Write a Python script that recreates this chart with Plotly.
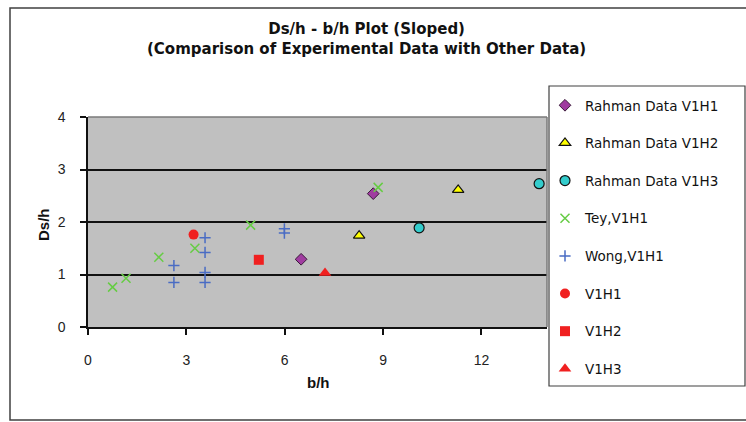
import plotly.graph_objects as go

# ---- data ----
rahman_v1h1_x = [6.50, 8.70]
rahman_v1h1_y = [1.29, 2.54]
rahman_v1h2_x = [8.27, 11.29]
rahman_v1h2_y = [1.74, 2.61]
rahman_v1h3_x = [10.10, 13.76]
rahman_v1h3_y = [1.89, 2.73]
tey_x = [0.75, 1.16, 2.16, 3.26, 4.96, 8.85]
tey_y = [0.76, 0.93, 1.33, 1.50, 1.94, 2.66]
wong_x = [2.62, 2.62, 3.57, 3.57, 3.57, 3.57, 5.99, 5.99]
wong_y = [1.17, 0.85, 1.70, 1.42, 1.04, 0.85, 1.87, 1.79]
v1h1_x = [3.22]
v1h1_y = [1.76]
v1h2_x = [5.21]
v1h2_y = [1.28]
v1h3_x = [7.23]
v1h3_y = [1.03]

x_ticks = [0, 3, 6, 9, 12]
y_ticks = [0, 1, 2, 3, 4]

FONT = "Liberation Sans, Arial, sans-serif"
WIDE = "DejaVu Sans, Verdana, sans-serif"

fig = go.Figure()

def add(name, xs, ys, symbol, color, size, line_color=None, line_width=1):
    fig.add_trace(go.Scatter(
        x=xs, y=ys, mode="markers", name=name, legendgroup=name,
        marker=dict(symbol=symbol, color=color, size=size,
                    line=dict(color=line_color if line_color else color, width=line_width)),
    ))

add("Rahman Data V1H1", rahman_v1h1_x, rahman_v1h1_y, "diamond", "#A03CA0", 9, "#3a1a3a", 1)
add("Rahman Data V1H2", rahman_v1h2_x, rahman_v1h2_y, "triangle-up", "#FFFF00", 10, "#111111", 1.2)
add("Rahman Data V1H3", rahman_v1h3_x, rahman_v1h3_y, "circle", "#33CCCC", 10, "#111111", 1.2)
add("Tey,V1H1", tey_x, tey_y, "x-thin-open", "#66CC44", 9, "#66CC44", 1.5)
add("Wong,V1H1", wong_x, wong_y, "cross-thin-open", "#4A6CC4", 8, "#4A6CC4", 1.5)
add("V1H1", v1h1_x, v1h1_y, "circle", "#F02020", 10, "#F02020", 0)
add("V1H2", v1h2_x, v1h2_y, "square", "#F02020", 10, "#F02020", 0)
add("V1H3", v1h3_x, v1h3_y, "triangle-up", "#F02020", 11, "#F02020", 0)

L, R, T, B = 88, 199, 117, 95
PW, PH = 746 - L - R, 422 - T - B

def px(xp):
    return (xp - L) / PW

def py(yp):
    return (422 - B - yp) / PH

fig.update_layout(
    width=746, height=422,
    margin=dict(l=L, r=R, t=T, b=B, pad=0, autoexpand=False),
    paper_bgcolor="white",
    plot_bgcolor="#C0C0C0",
    font=dict(family=FONT, size=14, color="#111111"),
    showlegend=True,
    legend=dict(
        x=px(545), y=py(90), xanchor="left", yanchor="top",
        bgcolor="rgba(0,0,0,0)", borderwidth=0,
        font=dict(family=WIDE, size=13.5, color="#111111"),
        traceorder="grouped", tracegroupgap=17.1,
        itemclick=False, maxheight=1,
    ),
    xaxis=dict(
        range=[0, 14], tickvals=x_ticks, ticktext=[str(v) for v in x_ticks],
        showgrid=False, zeroline=False,
        showline=True, linecolor="#111111", linewidth=1.5,
        ticks="outside", ticklen=6, tickwidth=1.5, tickcolor="#111111",
        ticklabelstandoff=13, automargin=False,
        tickfont=dict(family=FONT, size=14, color="#222222"),
        fixedrange=True,
    ),
    yaxis=dict(
        range=[0, 4], tickvals=y_ticks, ticktext=[str(v) for v in y_ticks],
        showgrid=True, gridcolor="#111111", gridwidth=1.5,
        zeroline=False,
        showline=True, linecolor="#111111", linewidth=1.5,
        ticks="outside", ticklen=6, tickwidth=1.5, tickcolor="#111111",
        ticklabelstandoff=12, automargin=False,
        tickfont=dict(family=FONT, size=14, color="#222222"),
        fixedrange=True,
    ),
    shapes=[
        # outer chart frame
        dict(type="rect", xref="paper", yref="paper",
             x0=px(10), x1=px(749), y0=py(420), y1=py(8),
             line=dict(color="#404040", width=1.5), fillcolor="rgba(0,0,0,0)", layer="below"),
        # plot area border (gray, top/right)
        dict(type="line", xref="paper", yref="paper", x0=0, x1=1, y0=1, y1=1,
             line=dict(color="#7a7a7a", width=1.5), layer="above"),
        dict(type="line", xref="paper", yref="paper", x0=1, x1=1, y0=0, y1=1,
             line=dict(color="#7a7a7a", width=1.5), layer="above"),
        # legend box
        dict(type="rect", xref="paper", yref="paper",
             x0=px(549), x1=px(745), y0=py(386), y1=py(86),
             line=dict(color="#404040", width=1.2), fillcolor="white", layer="below"),
    ],
    annotations=[
        dict(text="<b>Ds/h - b/h Plot (Sloped)<br>(Comparison of Experimental Data with Other Data)</b>",
             xref="paper", yref="paper", x=px(366), y=py(39),
             xanchor="center", yanchor="middle", showarrow=False,
             font=dict(family=WIDE, size=15, color="#111111")),
        dict(text="<b>b/h</b>", xref="paper", yref="paper", x=px(318), y=py(382),
             xanchor="center", yanchor="middle", showarrow=False,
             font=dict(family=FONT, size=15, color="#111111")),
        dict(text="<b>Ds/h</b>", xref="paper", yref="paper", x=px(43), y=py(225),
             xanchor="center", yanchor="middle", showarrow=False, textangle=-90,
             font=dict(family=FONT, size=15, color="#111111")),
    ],
)

fig.write_html("out.html", config={"displayModeBar": False},
               post_script="document.body.style.margin='0px';document.body.style.overflow='hidden';")
